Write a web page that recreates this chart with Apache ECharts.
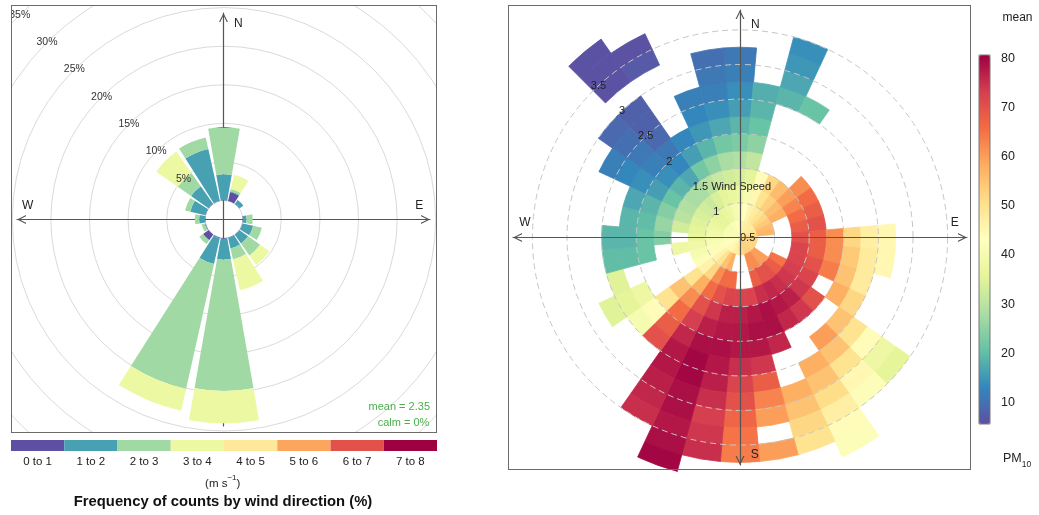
<!DOCTYPE html>
<html>
<head>
<meta charset="utf-8">
<title>Wind rose and PM10 polar plot</title>
<script src="https://cdn.jsdelivr.net/npm/echarts@6.0.0/dist/echarts.min.js"></script>
<style>
  html, body { margin:0; padding:0; background:#fff; width:1039px; height:515px; overflow:hidden; }
  #main { position:absolute; left:0; top:0; width:1039px; height:515px; }
  #rose { position:absolute; left:11px; top:5px; width:426px; height:428px; box-sizing:border-box;
          border:1px solid #6b6b6b; overflow:hidden; z-index:2; background:#fff; }
  #rbox { position:absolute; left:508px; top:5px; width:463px; height:465px; box-sizing:border-box;
          border:1px solid #6b6b6b; z-index:3; pointer-events:none; }
</style>
</head>
<body>
<div id="main"></div>
<div id="rose"></div>
<div id="rbox"></div>
<script>
const FONT = '"Liberation Sans", Arial, Helvetica, sans-serif';
const NA = null;

// ================= Wind rose data (left panel) =================
const directions = ['N','NNE','NE','ENE','E','ESE','SE','SSE','S','SSW','SW','WSW','W','WNW','NW','NNW'];
const speedBinLabels = ['0 to 1','1 to 2','2 to 3','3 to 4','4 to 5','5 to 6','6 to 7','7 to 8'];
const speedBinColors = ['#5E4FA2','#48A1B3','#A1D9A4','#EDF8A3','#FEE99A','#FCA55D','#E2524A','#9E0142'];
// percentage of counts per direction, one array per wind-speed bin (m/s)
const freq0to1 = [0.05,1.2,0.05,0,0.05,0.05,0.05,0.05,0.1,0.1,0.9,0.05,0.05,0.05,0.05,0.05];
const freq1to2 = [3.35,0.1,0.6,0,0.45,1.4,1.35,1.4,2.7,3.4,0,0.1,0.75,2.0,2.75,6.85];
const freq2to3 = [6.1,0.3,0,0,0.8,1.15,1.9,1.45,17.0,16.6,0.6,0.4,0.55,0.7,2.1,1.55];
const freq3to4 = [0,1.9,0,0,0,0,1.5,4.1,4.2,2.9,0,0,0,0,3.4,0];
const freq4to5 = [0,0,0,0,0,0,0,0,0,0,0,0,0,0,0,0];
const freq5to6 = [0,0,0,0,0,0,0,0,0,0,0,0,0,0,0,0];
const freq6to7 = [0,0,0,0,0,0,0,0,0,0,0,0,0,0,0,0];
const freq7to8 = [0,0,0,0,0,0,0,0,0,0,0,0,0,0,0,0];
const roseFreqs = [freq0to1,freq1to2,freq2to3,freq3to4,freq4to5,freq5to6,freq6to7,freq7to8];
const roseMaxPct = 35, roseStepPct = 5;
const meanSpeed = 2.35, calmPct = 0;
const roseTitle = 'Frequency of counts by wind direction (%)';

// ================= PM10 polar plot data (right panel) =================
const heatDirections = [0,10,20,30,40,50,60,70,80,90,100,110,120,130,140,150,160,170,
                        180,190,200,210,220,230,240,250,260,270,280,290,300,310,320,330,340,350];
const heatSpeedLower = [0.5,0.75,1,1.25,1.5,1.75,2,2.25,2.5,2.75,3,3.25,3.5,3.75,4];
const dirStep = 10, speedStep = 0.25;
// mean PM10 for each direction (rows) and wind-speed band (columns); null = no data
const pm10 = [
  [45,42,38,34,29,23,19,16,14,12,11,NA,NA,NA,NA],   // 0
  [46,43,40,36,31,25,21,19,18,NA,NA,NA,NA,NA,NA],   // 10
  [47,46,45,44,NA,NA,NA,NA,19,17,15,14,NA,NA,NA],   // 20
  [47,48,50,52,NA,NA,NA,NA,21,NA,NA,NA,NA,NA,NA],   // 30
  [48,50,53,56,NA,NA,NA,NA,NA,NA,NA,NA,NA,NA,NA],   // 40
  [48,52,56,60,62,NA,NA,NA,NA,NA,NA,NA,NA,NA,NA],   // 50
  [49,54,58,63,66,NA,NA,NA,NA,NA,NA,NA,NA,NA,NA],   // 60
  [50,56,NA,66,68,NA,NA,NA,NA,NA,NA,NA,NA,NA,NA],   // 70
  [51,57,NA,68,70,NA,NA,NA,NA,NA,NA,NA,NA,NA,NA],   // 80
  [52,NA,NA,70,68,62,52,47,45,NA,NA,NA,NA,NA,NA],   // 90
  [52,NA,NA,72,68,62,54,48,45,NA,NA,NA,NA,NA,NA],   // 100
  [52,NA,NA,72,70,64,55,48,NA,NA,NA,NA,NA,NA,NA],   // 110
  [52,NA,65,73,72,NA,58,52,NA,NA,NA,NA,NA,NA,NA],   // 120
  [52,60,68,74,74,70,NA,55,50,44,38,36,NA,NA,NA],   // 130
  [53,60,70,75,77,74,NA,60,55,50,45,42,NA,NA,NA],   // 140
  [53,62,70,76,78,76,NA,NA,58,55,51,47,44,42,NA],   // 150
  [53,62,68,75,79,79,76,NA,NA,58,55,52,50,NA,NA],   // 160
  [52,NA,NA,72,78,79,78,74,68,63,60,NA,60,NA,NA],   // 170
  [50,NA,NA,72,77,78,78,75,72,70,67,65,64,NA,NA],   // 180
  [48,NA,66,72,77,78,79,78,77,75,73,74,75,NA,NA],   // 190
  [47,58,66,70,74,77,79,80,80,79,79,78,79,80,NA],   // 200
  [46,55,62,66,70,73,76,78,78,77,76,75,NA,NA,NA],   // 210
  [45,50,52,58,62,66,68,70,NA,NA,NA,NA,NA,NA,NA],   // 220
  [45,46,46,50,55,50,44,40,NA,NA,NA,NA,NA,NA,NA],   // 230
  [44,44,42,NA,NA,NA,38,36,35,NA,NA,NA,NA,NA,NA],   // 240
  [43,42,40,NA,NA,NA,NA,35,NA,NA,NA,NA,NA,NA,NA],   // 250
  [42,41,39,38,NA,21,20,20,NA,NA,NA,NA,NA,NA,NA],   // 260
  [42,40,37,NA,24,21,19,19,NA,NA,NA,NA,NA,NA,NA],   // 270
  [41,39,36,33,26,20,19,NA,NA,NA,NA,NA,NA,NA,NA],   // 280
  [41,38,35,30,24,19,17,NA,NA,NA,NA,NA,NA,NA,NA],   // 290
  [40,37,34,29,21,16,14,13,12,NA,NA,NA,NA,NA,NA],   // 300
  [40,36,33,28,19,14,12,11,10,9,NA,NA,NA,NA,NA],    // 310
  [40,36,32,28,17,13,11,9,8,8,NA,6,6,6,NA],         // 320
  [41,37,34,30,22,16,13,NA,NA,NA,NA,7,6,NA,NA],     // 330
  [42,38,36,32,25,19,15,13,12,NA,NA,NA,NA,NA,NA],   // 340
  [43,40,37,33,28,22,17,14,12,11,10,NA,NA,NA,NA]    // 350
];
const pmColours = ['#5E4FA2','#3288BD','#66C2A5','#ABDDA4','#E6F598','#FFFFBF','#FEE08B','#FDAE61','#F46D43','#D53E4F','#9E0142'];
const pmMin = 5.6, pmMax = 80.7;
const pmTicks = [10,20,30,40,50,60,70,80];
const wsMin = 0.5, wsRingMax = 3.5, wsRingStep = 0.5, wsDataMax = 4.25;

// ================= shared styling =================
const ARROW = 'path://M0,10L5,0L10,10L8.6,10L5,2.8L1.4,10Z';
const AXIS_COLOR = '#555';
function txt(x, y, text, size, opts) {
  opts = opts || {};
  return { type: 'text', x: x, y: y, z: 50, silent: true,
    style: { text: text, fill: opts.color || '#222', fontSize: size, fontFamily: FONT,
      fontWeight: opts.weight || 'normal', align: opts.align || 'center',
      verticalAlign: opts.valign || 'middle', rich: opts.rich } };
}

// ================= Left chart: wind rose =================
const roseChart = echarts.init(document.getElementById('rose'), null, { renderer: 'canvas' });
const RC = [212, 213.3];
const R_IN = 18.7, R_OUT = 18.7 + 7.72 * roseMaxPct;
const roseSeries = speedBinLabels.map((name, i) => ({
  type: 'bar', coordinateSystem: 'polar', polarIndex: 0, stack: 'rose', name: name,
  data: roseFreqs[i], barCategoryGap: '12%', z: 2, silent: true,
  itemStyle: { color: speedBinColors[i] }
}));
roseChart.setOption({
  animation: false,
  backgroundColor: '#fff',
  textStyle: { fontFamily: FONT },
  polar: [
    { center: RC, radius: [R_IN, R_OUT] },
    { center: RC, radius: [R_IN, R_OUT] },
    { center: RC, radius: [R_IN, R_OUT] }
  ],
  angleAxis: [
    { polarIndex: 0, type: 'category', data: directions, startAngle: 90 + 360 / directions.length / 2,
      clockwise: true, boundaryGap: true, axisLine: { show: false }, axisTick: { show: false },
      axisLabel: { show: false }, splitLine: { show: false }, splitArea: { show: false } },
    { polarIndex: 1, type: 'value', min: 0, max: 360, startAngle: 135, show: false },
    { polarIndex: 2, type: 'value', min: 0, max: 360, startAngle: 135, show: false }
  ],
  radiusAxis: [
    { polarIndex: 0, type: 'value', min: 0, max: roseMaxPct, axisLine: { show: false },
      axisTick: { show: false }, axisLabel: { show: false }, splitLine: { show: false } },
    { polarIndex: 1, type: 'value', min: 0, max: roseMaxPct, interval: roseStepPct, z: 0,
      axisLine: { show: false }, axisTick: { show: false }, axisLabel: { show: false },
      splitLine: { show: true, showMinLine: false, lineStyle: { color: '#dadada', width: 1 } } },
    { polarIndex: 2, type: 'value', min: 0, max: roseMaxPct, interval: roseStepPct, z: 10,
      axisLine: { show: false }, axisTick: { show: false }, splitLine: { show: false },
      axisLabel: { show: true, showMinLabel: false, showMaxLabel: true, formatter: '{value}%',
        margin: 0, align: 'center', verticalAlign: 'middle', fontSize: 10.5, color: '#333' } }
  ],
  grid: { left: 5, top: 7, width: 413, height: 413 },
  xAxis: { type: 'value', min: -1, max: 1,
    axisLine: { onZero: true, symbol: [ARROW, ARROW], symbolSize: [9, 9], symbolOffset: [4.5, -4.5],
      lineStyle: { color: AXIS_COLOR, width: 1.2 } },
    axisTick: { show: false }, axisLabel: { show: false }, splitLine: { show: false } },
  yAxis: { type: 'value', min: -1, max: 1,
    axisLine: { onZero: true, symbol: ['none', ARROW], symbolSize: [9, 9], symbolOffset: [0, -4.5],
      lineStyle: { color: AXIS_COLOR, width: 1.2 } },
    axisTick: { show: false }, axisLabel: { show: false }, splitLine: { show: false } },
  series: roseSeries,
  graphic: [
    txt(226.3, 18, 'N', 12),
    txt(407.3, 200, 'E', 12),
    txt(15.7, 199.7, 'W', 12),
    txt(418, 401.3, 'mean = ' + meanSpeed, 11, { align: 'right', color: '#4cae4c' }),
    txt(417.3, 416.7, 'calm = ' + calmPct + '%', 11, { align: 'right', color: '#4cae4c' })
  ]
});

// ================= Main chart: legend, polar PM10 plot, colour bar =================
const mainChart = echarts.init(document.getElementById('main'), null, { renderer: 'canvas' });
const PC = [740, 237.5];
const PX_PER_MS = 69.2;

const heatData = [];
heatDirections.forEach((d, i) => {
  pm10[i].forEach((v, k) => {
    if (v !== null) heatData.push([heatSpeedLower[k], d, v]);
  });
});

function renderCell(params, api) {
  const s = api.value(0), d = api.value(1);
  const cs = params.coordSys;
  const outerA = api.coord([s + speedStep, d - dirStep / 2]);
  const outerB = api.coord([s + speedStep, d + dirStep / 2]);
  const inner = api.coord([s, d]);
  const r = Math.hypot(outerA[0] - cs.cx, outerA[1] - cs.cy);
  const r0 = Math.hypot(inner[0] - cs.cx, inner[1] - cs.cy);
  let a0 = Math.atan2(outerA[1] - cs.cy, outerA[0] - cs.cx);
  let a1 = Math.atan2(outerB[1] - cs.cy, outerB[0] - cs.cx);
  if (a1 < a0) a1 += Math.PI * 2;
  const color = api.visual('color');
  return {
    type: 'sector',
    shape: { cx: cs.cx, cy: cs.cy, r0: r0, r: r, startAngle: a0, endAngle: a1, clockwise: true },
    style: { fill: color, stroke: color, lineWidth: 0.8 }
  };
}

function ringLabel(v) {
  if (v === 1.5) return '{h|1.5 Wind Speed}1.5 Wind Speed';
  if (v === 0.5) return '{h|0.5}0.5';
  return String(v);
}

mainChart.setOption({
  animation: false,
  backgroundColor: '#fff',
  textStyle: { fontFamily: FONT },
  polar: [
    { center: PC, radius: [0, PX_PER_MS * (wsDataMax - wsMin)] },
    { center: PC, radius: [0, PX_PER_MS * (wsRingMax - wsMin)] }
  ],
  angleAxis: [
    { polarIndex: 0, type: 'value', min: 0, max: 360, startAngle: 90, clockwise: true, show: false },
    { polarIndex: 1, type: 'value', min: 0, max: 360, startAngle: 133, show: false }
  ],
  radiusAxis: [
    { polarIndex: 0, type: 'value', min: wsMin, max: wsDataMax, axisLine: { show: false },
      axisTick: { show: false }, axisLabel: { show: false }, splitLine: { show: false } },
    { polarIndex: 1, type: 'value', min: wsMin, max: wsRingMax, interval: wsRingStep, z: 5,
      axisLine: { show: false }, axisTick: { show: false },
      splitLine: { show: true, showMinLine: false,
        lineStyle: { color: '#c6c6c6', width: 1, type: [6, 4] } },
      axisLabel: { show: true, showMinLabel: true, showMaxLabel: true, margin: 0, align: 'center',
        verticalAlign: 'middle', fontSize: 11, color: '#222', formatter: ringLabel,
        rich: { h: { color: 'transparent', fontSize: 11 } } } }
  ],
  grid: [
    { left: 513, top: 10, width: 454, height: 455 },
    { left: 979, top: 55, width: 11, height: 369, show: true, borderColor: '#777', borderWidth: 1,
      backgroundColor: 'transparent', z: 10 },
    { left: 11, top: 440, width: 426, height: 11 }
  ],
  xAxis: [
    { gridIndex: 0, type: 'value', min: -1, max: 1, z: 6,
      axisLine: { onZero: true, symbol: [ARROW, ARROW], symbolSize: [9, 9], symbolOffset: [4.5, -4.5],
        lineStyle: { color: AXIS_COLOR, width: 1.2 } },
      axisTick: { show: false }, axisLabel: { show: false }, splitLine: { show: false } },
    { gridIndex: 1, type: 'value', min: 0, max: 1, show: false },
    { gridIndex: 2, type: 'category', data: speedBinLabels, axisLine: { show: false },
      axisTick: { show: false }, splitLine: { show: false },
      axisLabel: { interval: 0, margin: 5, fontSize: 11.5, color: '#222' } }
  ],
  yAxis: [
    { gridIndex: 0, type: 'value', min: -1, max: 1, z: 6,
      axisLine: { onZero: true, symbol: [ARROW, ARROW], symbolSize: [9, 9], symbolOffset: [4.5, -4.5],
        lineStyle: { color: AXIS_COLOR, width: 1.2 } },
      axisTick: { show: false }, axisLabel: { show: false }, splitLine: { show: false } },
    { gridIndex: 1, type: 'value', min: pmMin, max: pmMax, position: 'right',
      axisLine: { show: false }, splitLine: { show: false },
      axisTick: { show: true, customValues: pmTicks, length: 4, lineStyle: { color: '#555' } },
      axisLabel: { show: true, customValues: pmTicks, margin: 11, fontSize: 12.5, color: '#222' } },
    { gridIndex: 2, type: 'value', min: 0, max: 1, show: false }
  ],
  visualMap: {
    type: 'continuous', min: pmMin, max: pmMax, dimension: 2, seriesIndex: 0,
    inRange: { color: pmColours }, calculable: false, orient: 'vertical',
    left: 979, top: 55, itemWidth: 11, itemHeight: 369, padding: 0, text: null,
    hoverLink: false, showLabel: false
  },
  series: [
    { type: 'custom', coordinateSystem: 'polar', polarIndex: 0, renderItem: renderCell,
      data: heatData, z: 2, silent: true },
    { type: 'bar', xAxisIndex: 2, yAxisIndex: 2, barCategoryGap: '0%', silent: true,
      data: speedBinColors.map(c => ({ value: 1, itemStyle: { color: c } })) }
  ],
  graphic: [
    txt(755.3, 24.7, 'N', 12),
    txt(954.7, 223, 'E', 12),
    txt(754.7, 454.3, 'S', 12),
    txt(525, 223, 'W', 12),
    txt(1017.5, 17.5, 'mean', 12),
    txt(1003, 461, '{a|PM}{b|10}', 12.5, { align: 'left',
      rich: { a: { fontSize: 12.5, fontFamily: FONT, fill: '#222', lineHeight: 17, verticalAlign: 'top' },
              b: { fontSize: 8.5, fontFamily: FONT, fill: '#222', lineHeight: 17, verticalAlign: 'bottom' } } }),
    txt(222.7, 481.7, '{a|(m s}{b|\u22121}{a|)}', 11.5, {
      rich: { a: { fontSize: 11.5, fontFamily: FONT, fill: '#222', lineHeight: 16, verticalAlign: 'bottom' },
              b: { fontSize: 8, fontFamily: FONT, fill: '#222', lineHeight: 16, verticalAlign: 'top' } } }),
    txt(223, 501.7, roseTitle, 14.8, { weight: 'bold', color: '#111' })
  ]
});
</script>
</body>
</html>
